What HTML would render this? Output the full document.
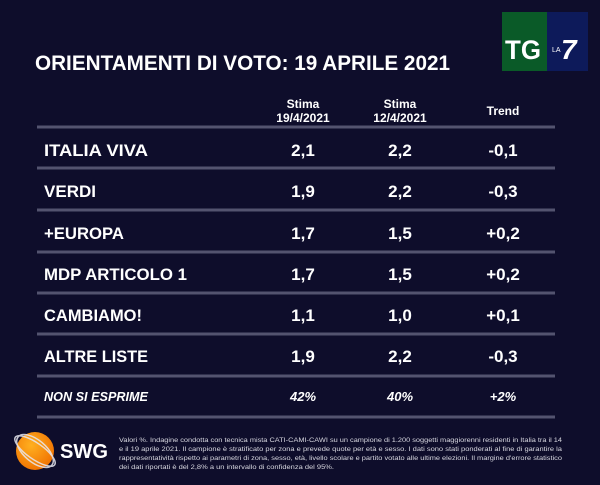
<!DOCTYPE html>
<html><head><meta charset="utf-8"><style>
html,body{margin:0;padding:0;background:#0e0d2b;}
svg{display:block}
</style></head><body>
<svg width="600" height="485" viewBox="0 0 600 485" xmlns="http://www.w3.org/2000/svg" font-family="Liberation Sans, sans-serif">
<defs>
<radialGradient id="og" cx="0.4" cy="0.35" r="0.7"><stop offset="0" stop-color="#ffb020"/><stop offset="1" stop-color="#f07000"/></radialGradient>
</defs>
<rect width="600" height="485" fill="#0e0d2b"/>
<!-- logo -->
<rect x="502" y="12" width="45" height="59" fill="#0a5a28"/>
<rect x="547" y="12" width="41" height="59" fill="#0d1a5a"/>
<text x="505" y="59" font-size="27" font-weight="bold" fill="#fff" textLength="36" lengthAdjust="spacingAndGlyphs">TG</text>
<text x="552" y="52" font-size="7" fill="#fff">LA</text>
<text x="561" y="59" font-size="28" font-weight="bold" font-style="italic" fill="#fff">7</text>
<!-- title -->
<text x="35" y="70" font-size="21" font-weight="bold" fill="#fff" textLength="415" lengthAdjust="spacingAndGlyphs">ORIENTAMENTI DI VOTO: 19 APRILE 2021</text>
<!-- headers -->
<g font-size="12" font-weight="bold" fill="#fff" text-anchor="middle">
<text x="303" y="108">Stima</text><text x="303" y="122">19/4/2021</text>
<text x="400" y="108">Stima</text><text x="400" y="122">12/4/2021</text>
<text x="503" y="115">Trend</text>
</g>
<g stroke="#53536f" stroke-width="3">
<line x1="37" y1="127" x2="555" y2="127"/>
<line x1="37" y1="168" x2="555" y2="168"/>
<line x1="37" y1="210" x2="555" y2="210"/>
<line x1="37" y1="252" x2="555" y2="252"/>
<line x1="37" y1="293" x2="555" y2="293"/>
<line x1="37" y1="334" x2="555" y2="334"/>
<line x1="37" y1="376" x2="555" y2="376"/>
<line x1="37" y1="417" x2="555" y2="417"/>
</g>
<g font-size="17" font-weight="bold" fill="#fff">
<text x="44" y="156" textLength="104" lengthAdjust="spacingAndGlyphs">ITALIA VIVA</text>
<text x="44" y="197" textLength="52" lengthAdjust="spacingAndGlyphs">VERDI</text>
<text x="44" y="239" textLength="80" lengthAdjust="spacingAndGlyphs">+EUROPA</text>
<text x="44" y="280" textLength="143" lengthAdjust="spacingAndGlyphs">MDP ARTICOLO 1</text>
<text x="44" y="321" textLength="98" lengthAdjust="spacingAndGlyphs">CAMBIAMO!</text>
<text x="44" y="362" textLength="104" lengthAdjust="spacingAndGlyphs">ALTRE LISTE</text>
</g>
<g font-size="17" font-weight="bold" fill="#fff" text-anchor="middle">
<text x="303" y="156">2,1</text><text x="400" y="156">2,2</text><text x="503" y="156">-0,1</text>
<text x="303" y="197">1,9</text><text x="400" y="197">2,2</text><text x="503" y="197">-0,3</text>
<text x="303" y="239">1,7</text><text x="400" y="239">1,5</text><text x="503" y="239">+0,2</text>
<text x="303" y="280">1,7</text><text x="400" y="280">1,5</text><text x="503" y="280">+0,2</text>
<text x="303" y="321">1,1</text><text x="400" y="321">1,0</text><text x="503" y="321">+0,1</text>
<text x="303" y="362">1,9</text><text x="400" y="362">2,2</text><text x="503" y="362">-0,3</text>
</g>
<g font-size="13" font-weight="bold" font-style="italic" fill="#fff">
<text x="44" y="401" textLength="104" lengthAdjust="spacingAndGlyphs">NON SI ESPRIME</text>
<text x="303" y="401" text-anchor="middle">42%</text>
<text x="400" y="401" text-anchor="middle">40%</text>
<text x="503" y="401" text-anchor="middle">+2%</text>
</g>
<!-- SWG -->
<circle cx="35" cy="451" r="19" fill="url(#og)"/>
<g fill="none" stroke="#e8e8f0" stroke-width="1.5" opacity="0.85">
<ellipse cx="35" cy="451" rx="24" ry="8" transform="rotate(35 35 451)"/>
<ellipse cx="35" cy="451" rx="22" ry="11" transform="rotate(40 35 451)"/>
</g>
<text x="60" y="458" font-size="20" font-weight="bold" fill="#fff" textLength="48" lengthAdjust="spacingAndGlyphs">SWG</text>
<g font-size="6.5" fill="#d8d8e0">
<text x="119" y="442" textLength="443" lengthAdjust="spacingAndGlyphs">Valori %. Indagine condotta con tecnica mista CATI-CAMI-CAWI su un campione di 1.200 soggetti maggiorenni residenti in Italia tra il 14</text>
<text x="119" y="451" textLength="443" lengthAdjust="spacingAndGlyphs">e il 19 aprile 2021. Il campione è stratificato per zona e prevede quote per età e sesso. I dati sono stati ponderati al fine di garantire la</text>
<text x="119" y="460" textLength="443" lengthAdjust="spacingAndGlyphs">rappresentatività rispetto ai parametri di zona, sesso, età, livello scolare e partito votato alle ultime elezioni. Il margine d'errore statistico</text>
<text x="119" y="469" textLength="215" lengthAdjust="spacingAndGlyphs">dei dati riportati è del 2,8% a un intervallo di confidenza del 95%.</text>
</g>
</svg>
</body></html>
